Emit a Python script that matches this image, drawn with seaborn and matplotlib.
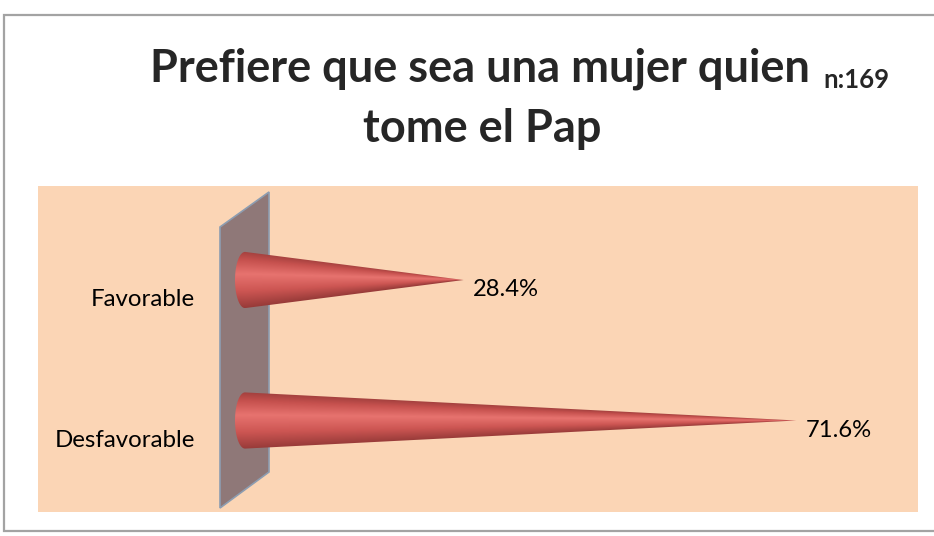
import numpy as np
import pandas as pd
import matplotlib
matplotlib.use("Agg")
import matplotlib.pyplot as plt
import seaborn as sns
from matplotlib.patches import Rectangle, Polygon, PathPatch
from matplotlib.path import Path
from matplotlib.colors import LinearSegmentedColormap

# -------------------------------
# Data
# -------------------------------
categories = ["Favorable", "Desfavorable"]
values = [28.4, 71.6]
value_labels = ["28.4%", "71.6%"]
title_main = "Prefiere que sea una mujer quien"
title_sub = "n:169"
title_line2 = "tome el Pap"

df = pd.DataFrame({"categoria": categories, "valor": values})

# -------------------------------
# Style
# -------------------------------
sns.set_style("white")
plt.rcParams["font.family"] = ["Lato", "DejaVu Sans"]

PEACH = "#fbd5b5"
WALL = "#8f7878"
WALL_EDGE = "#8d9db1"

W, H = 934, 536
fig = plt.figure(figsize=(W / 100, H / 100), dpi=100)
renderer = fig.canvas.get_renderer()


def fx(x):
    return x / W


def fy(y):
    return 1 - y / H


def fit_size(s, width_px, **kw):
    t = fig.text(0, 0, s, fontsize=20, **kw)
    w = t.get_window_extent(renderer=renderer).width
    t.remove()
    return 20 * width_px / w


# chart border, plot area and side wall
fig.add_artist(Rectangle((fx(4), fy(531)), fx(934), 516 / H, transform=fig.transFigure,
                         facecolor="white", edgecolor="#a3a3a3", lw=1.6, zorder=0))
fig.add_artist(Rectangle((fx(38), fy(512)), fx(880), 326 / H, transform=fig.transFigure,
                         facecolor=PEACH, edgecolor="none", zorder=0.5))
wall_pts = [(220, 227), (269, 192), (269, 472), (220, 508)]
fig.add_artist(Polygon([(fx(a), fy(b)) for a, b in wall_pts], closed=True,
                       transform=fig.transFigure, facecolor=WALL,
                       edgecolor=WALL_EDGE, lw=1.2, zorder=1))

# -------------------------------
# Bars (drawn as cones)
# -------------------------------
PX_PER_UNIT = 7.7
AX_LEFT, ZERO_X, AX_RIGHT = 225, 245, 918

ax = fig.add_axes([fx(AX_LEFT), fy(512), fx(AX_RIGHT - AX_LEFT), 326 / H])
ax.set_zorder(2)
ax.patch.set_alpha(0)

sns.barplot(data=df, x="valor", y="categoria", orient="h", width=0.4,
            errorbar=None, color="#c0504d", ax=ax)

xlim = (-(ZERO_X - AX_LEFT) / PX_PER_UNIT, (AX_RIGHT - ZERO_X) / PX_PER_UNIT)
ylim = (1 + (512 - 420.5) / 140.5, -(280 - 186) / 140.5)

cmap = LinearSegmentedColormap.from_list(
    "cone", [(0.0, "#a3403e"), (0.15, "#c6514e"), (0.4, "#e7736f"),
             (0.7, "#cd5653"), (1.0, "#983b39")])
base_rx = 1.3

label_size = fit_size("Desfavorable", 140)
value_size = fit_size("71.6%", 66)

for p, lab, cat in zip(ax.patches, value_labels, categories):
    p.set_visible(False)
    L = p.get_width()
    r = p.get_height() / 2
    yc = p.get_y() + r

    t = np.linspace(0, np.pi, 40)
    pts = list(zip(-base_rx * np.sin(t), yc - r * np.cos(t))) + [(L, yc), (0, yc - r)]
    codes = [Path.MOVETO] + [Path.LINETO] * (len(pts) - 2) + [Path.CLOSEPOLY]
    clip = PathPatch(Path(pts, codes), transform=ax.transData,
                     facecolor="none", edgecolor="none")
    ax.add_patch(clip)

    xs = np.linspace(-base_rx, L, 500)
    ys = np.linspace(-1, 1, 140)
    X, Y = np.meshgrid(xs, ys)
    local = np.clip(1 - np.clip(X, 0, None) / L, 0.02, None)
    V = np.clip(Y / local, -1, 1)
    img = ax.imshow((V + 1) / 2, cmap=cmap, vmin=0, vmax=1,
                    extent=(-base_rx, L, yc - r, yc + r), origin="lower",
                    aspect="auto", interpolation="bilinear", zorder=3)
    img.set_clip_path(clip)

    ax.annotate(lab, xy=(L, yc), xytext=(9, -10), textcoords="offset pixels",
                ha="left", va="center", fontsize=value_size, color="black")
    ax.annotate(cat, xy=(0, yc), xycoords="data",
                xytext=(-50, -20), textcoords="offset pixels",
                ha="right", va="center", fontsize=label_size, color="black")

ax.set_xlim(*xlim)
ax.set_ylim(*ylim)
ax.set_xticks([])
ax.set_yticks([])
ax.set_xlabel("")
ax.set_ylabel("")
sns.despine(ax=ax, left=True, bottom=True)

# -------------------------------
# Title
# -------------------------------
title_size = fit_size(title_main, 660, fontweight="bold")
fig.text(fx(150), fy(82), title_main, fontsize=title_size, fontweight="bold",
         ha="left", va="baseline")
sub_size = fit_size(title_sub, 66, fontweight="bold")
fig.text(fx(823), fy(88), title_sub, fontsize=sub_size, fontweight="bold",
         ha="left", va="baseline")
fig.text(fx(482), fy(142), title_line2, fontsize=title_size, fontweight="bold",
         ha="center", va="baseline")

plt.savefig("out.png", dpi=100)
